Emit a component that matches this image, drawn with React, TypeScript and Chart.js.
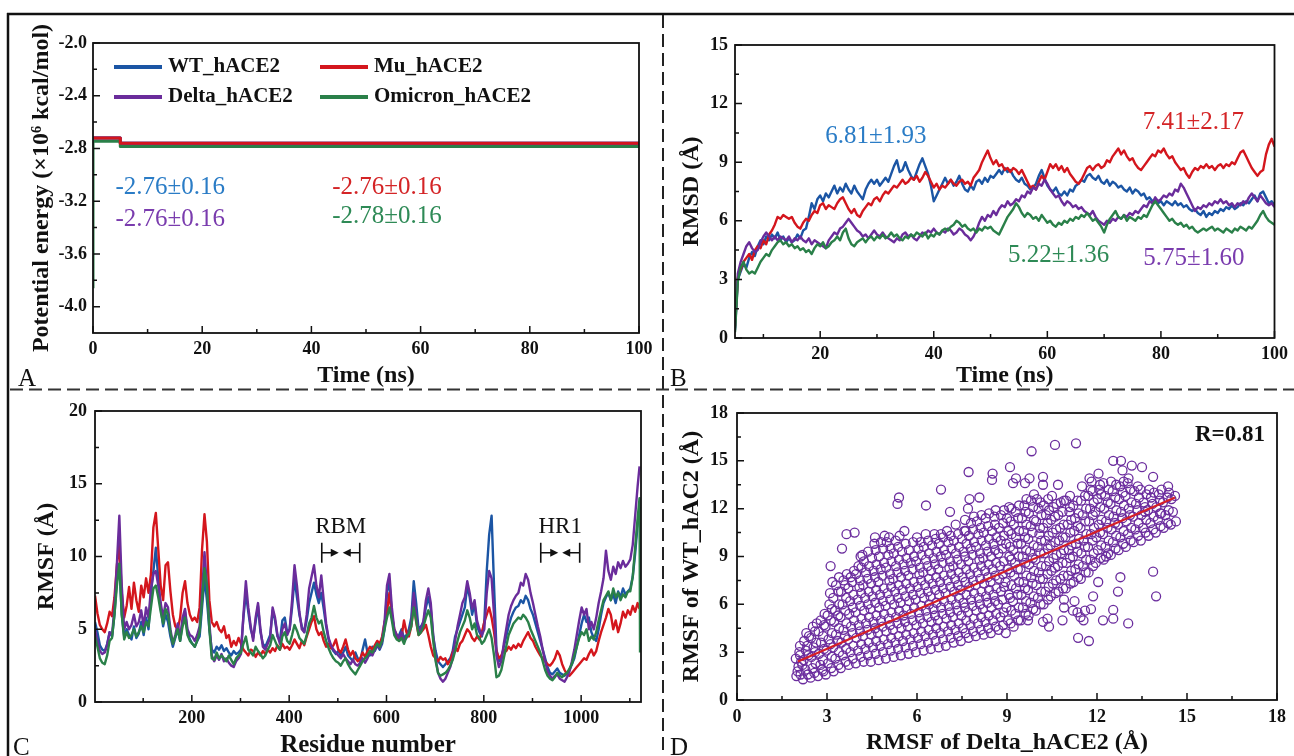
import React, { useEffect, useRef } from "react";
import { Chart, registerables } from "chart.js";

Chart.register(...registerables);

const SERIF = "'Liberation Serif', 'Times New Roman', Times, serif";
const INK = "#111111";
Chart.defaults.font.family = SERIF;

// ---------- shared series meta ----------
const SERIES_NAMES = ["WT_hACE2", "Mu_hACE2", "Delta_hACE2", "Omicron_hACE2"];
const LINE_COLORS = ["#1b55a4", "#d4161d", "#6a2c9b", "#2a8049"];
const TEXT_COLORS = ["#2a7cc6", "#d42426", "#7a3cae", "#2e8a56"];

// ---------- Panel A: potential energy ----------
const ENERGY_TIME = [0, 0, 5, 5, 100];
const ENERGY_WT = [-2.72, -2.72, -2.72, -2.76, -2.76];
const ENERGY_MU = [-2.72, -2.72, -2.72, -2.76, -2.76];
const ENERGY_DELTA = [-2.72, -2.72, -2.72, -2.76, -2.76];
const ENERGY_OMICRON = [-3.86, -2.745, -2.745, -2.785, -2.785];
const ENERGY_STATS = ["-2.76±0.16", "-2.76±0.16", "-2.76±0.16", "-2.78±0.16"];
const ENERGY_X_TICKS = [0, 20, 40, 60, 80, 100];
const ENERGY_X_MINOR = [10, 30, 50, 70, 90];
const ENERGY_Y_TICKS = [-2.0, -2.4, -2.8, -3.2, -3.6, -4.0];
const ENERGY_Y_MINOR = [-2.2, -2.6, -3.0, -3.4, -3.8];

// ---------- Panel B: RMSD (t = 5 … 100 ns, every 0.5 ns) ----------
const RMSD_TIME = Array.from({ length: 191 }, (_, i) => 5 + i * 0.5);
const RMSD_WT = [
  0.4, 3.0, 3.4, 3.8, 3.6, 4.1, 4.4, 4.2, 4.7, 5.0,
  4.8, 5.2, 5.0, 5.3, 5.1, 5.4, 5.0, 5.2, 4.9, 5.1,
  4.9, 5.0, 5.3, 5.1, 5.5, 5.6, 6.2, 6.9, 6.6, 7.1,
  7.3, 7.0, 7.4, 7.2, 7.5, 7.8, 7.4, 7.7, 7.5, 7.9,
  7.6, 7.4, 7.8, 7.5, 7.3, 7.1, 7.6, 7.9, 8.1, 7.9,
  8.1, 7.8, 8.0, 8.2, 8.0, 8.4, 8.8, 9.1, 8.5, 8.6,
  9.0, 8.6, 8.3, 8.1, 8.5, 8.9, 9.2, 8.8, 8.4, 7.8,
  7.0, 7.3, 7.6, 7.9, 8.2, 7.9, 8.1, 7.8, 8.0, 8.3,
  7.9, 7.6, 7.5, 7.8, 7.6, 8.0, 8.1, 7.9, 8.2, 8.0,
  8.3, 8.2, 8.4, 8.6, 8.4, 8.7, 8.5, 8.6, 8.3, 8.1,
  8.0, 8.2, 7.9, 7.8, 7.6, 7.7, 7.9, 8.3, 8.6, 8.2,
  7.8, 7.6, 7.5, 7.7, 7.4, 7.3, 7.5, 7.3, 7.6, 7.5,
  7.8, 7.9, 8.1, 8.0, 8.3, 8.4, 8.2, 8.1, 8.3, 8.0,
  7.9, 8.1, 7.8, 8.0, 7.9, 7.7, 7.8, 7.6, 7.5, 7.7,
  7.4, 7.6, 7.5, 7.3, 7.4, 7.1, 7.2, 7.0, 7.1, 6.9,
  7.0, 6.8, 7.0, 6.9, 6.8, 7.0, 6.8, 6.9, 6.7, 6.8,
  6.6, 6.5, 6.6, 6.4, 6.3, 6.5, 6.2, 6.4, 6.3, 6.5,
  6.4, 6.6, 6.5, 6.7, 6.6, 6.8, 6.6, 6.7, 6.9, 6.8,
  7.0, 6.9, 7.1, 7.3, 7.0, 7.4, 7.5, 7.2, 6.9, 7.0, 6.8,
];
const RMSD_MU = [
  0.6, 3.1, 3.5, 3.9, 4.1, 4.3, 4.0, 4.5, 4.7, 4.6,
  5.0, 4.8, 5.3, 5.5, 5.8, 6.2, 6.1, 6.3, 6.2, 6.1,
  6.2, 5.9, 5.7, 5.6, 5.9, 6.1, 6.0, 6.3, 6.5, 6.4,
  6.8, 6.9, 6.6, 6.8, 6.7, 6.6, 6.9, 7.1, 7.2, 6.9,
  6.6, 6.4, 6.6, 6.3, 6.2, 6.5, 6.7, 6.9, 6.8, 7.1,
  7.2, 7.0, 7.3, 7.5, 7.4, 7.6, 7.8, 7.7, 7.9, 8.1,
  7.9, 8.0, 8.2, 8.1, 8.3, 8.0, 8.2, 8.5, 8.3, 8.0,
  7.7, 7.9, 7.6, 7.8, 7.7, 7.9, 8.1, 7.9, 7.8, 8.0,
  8.1, 7.9, 8.0, 7.8, 8.2, 8.4, 8.6, 9.0, 9.3, 9.6,
  9.2, 8.9, 9.1, 8.8, 8.9, 8.6, 8.7, 8.5, 8.7, 8.6,
  8.4, 8.6, 8.3, 8.0, 7.7, 7.8, 7.6, 8.0, 8.3, 8.1,
  8.5, 8.9, 8.7, 8.9, 8.6, 8.8, 8.5, 8.7, 8.4, 8.2,
  8.0, 7.9, 8.1, 8.4, 8.7, 8.8, 8.6, 8.8, 8.9, 8.7,
  8.8, 9.1, 9.0, 9.3, 9.5, 9.7, 9.4, 9.6, 9.3, 9.1,
  9.2, 8.9, 8.7, 8.6, 8.8, 9.0, 9.2, 9.4, 9.3, 9.6,
  9.5, 9.7, 9.4, 9.2, 9.3, 9.0, 8.8, 8.6, 8.7, 8.4,
  8.2, 8.5, 8.7, 8.6, 8.8, 8.7, 8.9, 8.7, 8.8, 8.6,
  8.8, 8.9, 8.7, 8.9, 8.8, 9.0, 8.9, 9.2, 9.5, 9.6,
  9.3, 9.0, 8.7, 8.5, 8.3, 8.5, 8.6, 9.4, 9.9, 10.2, 9.8,
];
const RMSD_DELTA = [
  0.5, 3.3, 3.9, 4.3, 4.7, 4.9, 4.6, 4.4, 4.5, 4.9,
  5.2, 5.4, 5.2, 5.0, 5.2, 5.0, 5.2, 5.1, 5.0, 5.2,
  4.9, 5.1, 5.0, 5.2, 5.0, 4.9, 5.1, 4.8, 5.0, 4.9,
  4.8, 4.7, 4.6, 5.0, 5.2, 5.4, 5.3, 5.6, 5.7, 5.9,
  6.1, 5.9, 5.7, 5.5, 5.4, 5.2, 5.3, 5.1, 5.3, 5.5,
  5.3, 5.2, 5.4, 5.2, 5.1, 5.0, 4.9, 5.1, 5.0, 5.3,
  5.4, 5.2, 5.3, 5.1, 5.0, 5.2, 5.4, 5.3, 5.5, 5.4,
  5.6, 5.4, 5.3, 5.5, 5.4, 5.6, 5.5, 5.3, 5.4, 5.6,
  5.5, 5.3, 5.2, 5.0, 5.2, 5.5, 5.9, 6.2, 6.0, 6.3,
  6.2, 6.5, 6.3, 6.6, 6.8, 6.7, 7.0, 6.8, 6.9, 7.1,
  7.0, 7.3, 7.2, 7.5, 7.4, 7.7, 7.6, 7.9, 7.8, 8.1,
  7.9, 7.6, 7.4, 7.2, 7.3, 7.0, 6.8, 7.0, 6.9, 6.7,
  6.8, 6.6, 6.7, 6.5, 6.4, 6.3, 6.5, 6.2, 6.0, 5.9,
  5.8, 6.0, 5.9, 6.1, 6.0, 6.2, 6.1, 6.3, 6.2, 6.4,
  6.3, 6.5, 6.4, 6.6, 6.8, 6.7, 7.0, 6.9, 7.2, 7.0,
  7.1, 7.3, 7.2, 7.4, 7.3, 7.6, 7.5, 7.9, 7.7, 7.4,
  7.1, 6.8, 6.5, 6.7, 6.6, 6.8, 6.7, 6.9, 6.8, 7.0,
  6.9, 7.1, 6.9, 7.0, 6.8, 6.9, 6.7, 6.9, 6.8, 7.0,
  6.9, 7.2, 7.4, 7.2, 7.0, 7.3, 7.1, 6.9, 6.8, 6.9, 6.7,
];
const RMSD_OMICRON = [
  0.3, 2.9, 3.6, 3.9, 3.5, 3.3, 3.4, 3.3, 3.6, 3.9,
  4.1, 4.3, 4.2, 4.5, 4.7, 4.9, 5.0, 4.8, 4.9, 4.7,
  4.8, 4.6, 4.7, 4.5, 4.6, 4.4, 4.5, 4.3, 4.6, 4.8,
  4.7, 4.9, 4.6, 4.7, 4.9, 5.0, 5.2, 5.0, 5.4, 5.6,
  5.1, 4.8, 4.7, 4.9, 5.0, 5.1, 4.9, 5.1, 5.2, 5.0,
  5.2, 5.1, 5.3, 5.1, 5.2, 5.4, 5.2, 5.3, 5.1, 5.0,
  5.2, 5.1, 5.3, 5.2, 5.4, 5.3, 5.2, 5.4, 5.1, 5.3,
  5.2, 5.4, 5.3, 5.5, 5.6, 5.5, 5.7, 5.8, 6.0, 5.9,
  5.7, 5.8, 5.6, 5.5, 5.6, 5.4, 5.6, 5.5, 5.7, 5.6,
  5.7, 5.5, 5.4, 5.3, 5.6, 5.9, 6.2, 6.4, 6.6, 6.9,
  6.7, 6.4, 6.2, 6.4, 6.3, 6.1, 6.2, 6.0, 6.3, 6.1,
  5.9, 6.0, 5.8, 5.7, 5.9, 5.8, 6.0, 5.9, 6.1, 6.0,
  6.2, 6.1, 6.3, 6.2, 6.4, 6.2, 6.0, 6.1, 5.9, 5.7,
  5.4, 5.8, 6.1, 6.3, 6.5, 6.2, 6.1, 6.3, 6.0, 6.2,
  6.1, 6.0, 6.2, 6.1, 6.3, 6.2, 6.5, 6.8, 7.0, 6.8,
  6.6, 6.4, 6.2, 6.0, 6.1, 5.9, 5.8, 5.9, 5.7, 5.8,
  5.6, 5.7, 5.5, 5.4, 5.5, 5.6, 5.5, 5.6, 5.7, 5.5,
  5.6, 5.5, 5.4, 5.6, 5.5, 5.4, 5.6, 5.5, 5.7, 5.6,
  5.5, 5.7, 5.6, 5.8, 6.0, 6.3, 6.5, 6.2, 6.0, 5.9, 5.8,
];
const RMSD_STATS = ["6.81±1.93", "7.41±2.17", "5.75±1.60", "5.22±1.36"];
const RMSD_X_TICKS = [20, 40, 60, 80, 100];
const RMSD_X_MINOR = [10, 30, 50, 70, 90];
const RMSD_Y_TICKS = [0, 3, 6, 9, 12, 15];
const RMSD_Y_MINOR = [1.5, 4.5, 7.5, 10.5, 13.5];

// ---------- Panel C: RMSF per residue ----------
const RESIDUES = [...Array.from({ length: 224 }, (_, i) => 1 + i * 5), 1120, 1121];
const RMSF_MU = [
  7.3, 6.1, 5.3, 5.0, 4.8, 5.4, 6.2, 5.9, 7.2, 9.4,
  10.9, 7.5, 5.8, 6.6, 7.9, 6.4, 8.2, 7.0, 6.2, 8.0,
  7.2, 8.5, 7.5, 8.8, 12.0, 13.0, 10.5, 8.0, 7.0, 9.4,
  9.6, 7.6, 6.0, 5.2, 5.0, 5.8, 7.5, 8.3, 6.8, 6.0,
  5.6, 5.8, 5.5, 6.5, 10.5, 12.9, 11.0, 7.0, 5.5, 5.2,
  5.5, 5.0, 4.8, 5.2, 4.4, 4.6, 3.8, 4.2, 3.9, 4.4,
  4.0, 3.6, 3.4, 3.2, 3.6, 3.5, 3.1, 3.4, 3.2, 3.5,
  3.3, 3.6, 3.4, 3.7, 3.5, 3.9, 3.6, 4.0, 3.7, 3.8,
  3.6, 3.9, 4.3, 4.0, 3.7, 4.2, 3.9, 4.5, 5.0, 5.5,
  5.9, 5.0, 4.6, 4.8, 4.2, 3.8, 4.0, 3.7, 3.9, 4.3,
  3.6, 3.4, 3.8, 4.3, 3.6, 3.2, 3.5, 3.0, 2.8, 3.0,
  3.4, 3.1, 3.5, 3.8, 3.6, 3.9, 4.2, 4.0, 4.5, 5.5,
  6.2, 7.5, 6.0, 5.0, 4.6, 4.2, 4.5, 5.6, 4.8, 4.5,
  5.2, 6.8, 5.5, 4.6, 4.8, 5.0, 5.3, 4.6, 3.8, 3.2,
  3.0, 2.8, 3.1, 2.9, 3.0, 2.6, 2.9, 3.4, 3.8, 3.5,
  4.0, 4.2, 4.6, 5.0, 4.8, 4.4, 4.2, 4.5, 4.3, 4.8,
  5.5, 6.0, 6.5, 5.8, 4.8, 3.5, 3.0, 3.2, 3.6, 3.5,
  3.8, 3.6, 3.9, 3.7, 4.0, 3.8, 4.2, 4.5, 4.8, 4.4,
  4.2, 3.8, 3.5, 3.2, 3.0, 2.8, 2.6, 2.5, 2.7, 3.0,
  3.5, 3.2, 2.6, 2.2, 1.9, 1.8, 2.0, 2.2, 2.4, 2.6,
  2.8, 3.0, 2.9, 3.3, 3.6, 3.2, 3.5, 4.2, 4.8, 5.3,
  5.8, 6.4, 6.0, 5.0, 5.6, 4.8, 5.4, 6.2, 5.8, 6.3,
  6.0, 6.6, 6.2, 6.8, 6.4,
];
const RMSF_WT = [
  5.5, 4.8, 3.9, 3.6, 3.5, 4.0, 4.8, 4.5, 6.0, 8.5,
  9.5, 6.0, 4.5, 5.0, 4.6, 4.3, 5.2, 4.4, 4.7, 5.5,
  4.6, 5.8, 5.0, 7.5, 9.0, 10.6, 8.5, 6.5, 5.2, 6.0,
  5.5, 4.5, 3.8, 4.4, 5.0, 4.2, 5.5, 6.2, 4.8, 4.3,
  4.0, 3.8, 4.2, 4.5, 6.5, 8.5, 7.0, 5.0, 3.6, 3.4,
  3.8, 3.6, 3.9, 3.5, 3.7, 3.4, 3.2, 3.5, 3.3, 3.4,
  3.6, 5.8, 7.5, 6.2, 5.0, 4.4, 5.5, 6.6, 4.8, 4.0,
  3.8, 4.2, 4.6, 6.3, 5.6, 4.5, 4.2, 5.6, 5.8, 4.8,
  5.0, 6.5, 8.5, 7.2, 6.0, 5.2, 4.8, 5.6, 6.8, 7.5,
  8.2, 7.4, 6.8, 7.5, 6.4, 5.2, 4.3, 3.8, 3.5, 3.3,
  3.5, 3.2, 3.4, 3.8, 3.2, 3.0, 2.8, 3.4, 3.0, 2.8,
  3.6, 4.3, 3.4, 3.2, 3.8, 3.5, 3.9, 3.6, 4.0, 5.0,
  7.5, 8.3, 6.0, 4.8, 4.4, 4.6, 5.0, 4.4, 4.6, 5.0,
  5.8, 8.3, 6.8, 5.0, 5.2, 5.5, 6.5, 7.2, 6.4, 4.5,
  3.5, 2.8, 2.6, 2.4, 2.6, 2.8, 3.0, 3.5, 4.5, 5.0,
  5.5, 6.0, 6.5, 8.0, 7.2, 6.0, 6.8, 5.2, 4.8, 4.5,
  5.5, 9.0, 11.5, 12.8, 8.0, 3.6, 2.8, 3.0, 3.8, 4.5,
  5.2, 5.8, 6.2, 6.5, 6.6, 7.0, 6.8, 7.3, 7.0, 6.4,
  6.0, 5.4, 4.8, 4.2, 3.6, 3.0, 2.4, 2.0, 1.9, 2.1,
  2.3, 2.0, 1.9, 1.8, 2.0, 2.2, 2.6, 3.0, 3.8, 4.6,
  5.4, 6.0, 5.5, 5.8, 4.8, 4.4, 4.2, 5.0, 6.0, 6.8,
  7.2, 7.5, 7.0, 7.4, 6.8, 7.6, 7.2, 7.8, 7.4, 7.6,
  7.8, 8.6, 10.2, 12.2, 13.4,
];
const RMSF_DELTA = [
  5.0, 4.2, 3.5, 3.3, 3.4, 3.9, 4.8, 4.6, 6.5, 9.5,
  12.8, 8.0, 5.0, 5.5, 5.0, 5.3, 6.0, 5.2, 5.5, 6.3,
  5.2, 6.5, 5.8, 7.8, 8.8, 9.0, 8.0, 6.8, 5.8, 6.8,
  6.5, 5.0, 4.0, 4.6, 5.4, 4.4, 5.8, 6.4, 5.0, 4.6,
  4.5, 4.2, 4.6, 5.2, 7.5, 10.3, 8.0, 5.5, 3.2, 2.8,
  3.2, 2.9, 3.3, 2.8, 3.0, 2.7, 2.5, 2.4, 2.8, 3.0,
  3.3, 6.0, 8.3, 6.5, 5.2, 4.2, 5.8, 6.8, 5.0, 3.8,
  3.6, 4.0, 4.4, 6.5, 5.8, 4.6, 4.0, 5.0, 5.4, 4.6,
  5.0, 7.0, 9.4, 8.0, 6.2, 5.0, 4.8, 6.0, 7.8, 8.6,
  9.4, 8.0, 7.2, 8.7, 7.0, 5.4, 4.4, 3.9, 3.6, 3.4,
  3.2, 3.0, 3.3, 3.0, 2.8, 2.6, 2.9, 2.6, 2.5, 2.7,
  3.0, 2.7, 3.0, 3.4, 3.2, 3.6, 4.0, 3.7, 4.2, 5.5,
  8.0, 8.8, 6.5, 5.0, 4.6, 4.4, 4.8, 4.2, 4.4, 4.8,
  5.4, 7.5, 6.0, 4.8, 5.0, 5.6, 7.0, 7.8, 6.8, 4.6,
  3.0, 2.0, 1.6, 1.4, 1.6, 2.0, 2.4, 3.0, 4.2, 5.2,
  6.0, 6.8, 7.2, 8.3, 7.5, 6.4, 7.0, 5.6, 5.0, 4.6,
  5.0, 7.5, 9.0, 8.5, 6.0, 3.2, 2.4, 2.8, 4.0, 5.0,
  6.0, 6.6, 7.0, 7.3, 7.5, 8.2, 8.0, 8.8, 8.4, 7.5,
  6.8, 6.0, 5.2, 4.5, 3.6, 2.8, 2.1, 1.8, 1.6, 1.8,
  1.9, 1.6, 1.5, 1.4, 1.7, 2.1, 2.8, 3.6, 4.6, 5.6,
  6.5, 6.0, 6.4, 5.0, 5.5, 5.0, 5.8, 6.8, 7.6, 8.5,
  10.4, 9.0, 8.4, 9.3, 8.8, 9.6, 9.2, 9.7, 9.3, 9.5,
  9.8, 10.8, 12.8, 14.8, 16.2,
];
const RMSF_OMICRON = [
  4.5, 3.8, 3.0, 2.7, 2.6, 3.2, 4.2, 4.4, 6.0, 8.0,
  9.5, 6.0, 4.3, 4.8, 4.4, 4.6, 5.0, 4.5, 4.8, 5.2,
  4.8, 5.5, 5.2, 6.5, 7.8, 8.0, 7.2, 6.2, 5.4, 6.4,
  6.0, 4.8, 4.0, 4.5, 5.0, 4.2, 5.2, 5.8, 4.6, 4.2,
  4.0, 3.8, 4.2, 4.8, 7.0, 9.2, 8.0, 5.0, 3.0, 2.9,
  3.4, 3.0, 3.2, 3.0, 2.8, 3.2, 2.9, 2.6, 3.0, 3.2,
  3.4, 4.0, 4.5, 3.6, 3.4, 3.2, 3.8, 3.5, 3.3, 3.0,
  3.2, 3.6, 3.9, 4.6, 4.2, 3.8, 3.6, 4.5, 4.8, 4.2,
  4.0, 4.6, 5.3, 4.9, 4.4, 4.2, 4.0, 4.6, 5.4, 5.8,
  6.6, 5.8, 5.4, 5.6, 4.8, 4.2, 3.7, 3.3, 3.0, 2.8,
  2.7, 2.5, 2.8, 3.0, 2.6, 2.3, 2.1, 1.9, 2.2, 2.5,
  2.8, 3.0, 3.2, 3.5, 3.4, 3.7, 4.0, 3.8, 4.2, 5.0,
  5.8, 6.5, 5.6, 4.6, 4.3, 4.2, 4.4, 4.0, 4.5, 4.7,
  5.2, 6.5, 5.6, 4.6, 4.8, 5.2, 5.8, 6.3, 5.8, 4.2,
  2.8, 2.0, 1.8, 1.9, 2.0, 2.2, 2.5, 2.9, 3.5, 4.2,
  4.8, 5.2, 5.6, 6.3, 5.8, 5.0, 5.4, 4.6, 4.4, 4.0,
  4.2, 4.6, 5.0, 4.4, 3.2, 1.7, 1.8, 2.2, 3.0, 3.8,
  4.6, 5.0, 5.4, 5.6, 5.8, 5.7, 6.0, 5.8, 5.5, 5.0,
  4.6, 4.2, 3.8, 3.4, 2.8, 2.2, 1.8, 1.6, 1.5, 1.7,
  2.0, 1.8, 1.7, 1.9, 2.0, 2.3, 2.6, 3.2, 3.8, 4.4,
  4.8, 4.6, 5.0, 4.2, 4.5, 4.3, 4.8, 5.6, 6.3, 7.0,
  7.3, 7.6, 7.0, 7.8, 7.2, 7.5, 7.0, 7.4, 7.2, 7.6,
  7.6, 8.6, 10.6, 12.6, 14.0, 3.4,
];
const RMSF_X_TICKS = [200, 400, 600, 800, 1000];
const RMSF_X_MINOR = [100, 300, 500, 700, 900, 1100];
const RMSF_Y_TICKS = [0, 5, 10, 15, 20];
const RMSF_Y_MINOR = [2.5, 7.5, 12.5, 17.5];
const REGION_NAMES = ["RBM", "HR1"];
const REGION_START = [467, 917];
const REGION_END = [545, 997];

// ---------- Panel D: RMSF correlation (Delta x, WT y) ----------
const SCATTER_CORE: [number, number][] = [
  [1.98, 1.5], [2.05, 2.1], [1.96, 2.6], [2.08, 3.0], [2.02, 1.8], [2.1, 3.4],
  [2.2, 1.3], [2.28, 1.9], [2.22, 2.5], [2.3, 3.1], [2.24, 3.7], [2.31, 4.2], [2.18, 2.2],
  [2.45, 1.4], [2.52, 2.0], [2.48, 2.7], [2.55, 3.3], [2.47, 3.9], [2.53, 4.6], [2.58, 1.7],
  [2.7, 1.5], [2.78, 2.2], [2.73, 2.9], [2.8, 3.6], [2.72, 4.3], [2.79, 5.0], [2.84, 1.9],
  [2.96, 1.6], [3.03, 2.3], [2.98, 3.1], [3.05, 3.8], [2.95, 4.6], [3.02, 5.3], [3.08, 6.0], [3.1, 6.7], [3.12, 8.4],
  [3.22, 1.8], [3.28, 2.6], [3.2, 3.3], [3.3, 4.1], [3.24, 4.9], [3.27, 5.6], [3.21, 6.4], [3.3, 7.2],
  [3.46, 2.0], [3.53, 2.8], [3.48, 3.6], [3.55, 4.4], [3.45, 5.2], [3.52, 6.0], [3.47, 6.8], [3.55, 7.5], [3.5, 9.5],
  [3.72, 2.2], [3.78, 3.0], [3.7, 3.8], [3.8, 4.6], [3.74, 5.4], [3.77, 6.2], [3.71, 7.0], [3.79, 7.7], [3.65, 10.4],
  [3.96, 2.3], [4.03, 3.1], [3.98, 3.9], [4.06, 4.7], [3.95, 5.5], [4.02, 6.3], [4.08, 7.1], [3.97, 7.9], [4.05, 8.4], [3.92, 10.5],
  [4.22, 2.4], [4.28, 3.2], [4.2, 4.0], [4.3, 4.8], [4.24, 5.6], [4.27, 6.4], [4.21, 7.2], [4.3, 8.0], [4.23, 8.7], [4.18, 9.1],
  [4.46, 2.4], [4.53, 3.3], [4.48, 4.1], [4.55, 4.9], [4.45, 5.7], [4.52, 6.5], [4.47, 7.3], [4.55, 8.1], [4.5, 8.9], [4.58, 9.8],
  [4.72, 2.5], [4.78, 3.4], [4.7, 4.2], [4.8, 5.0], [4.74, 5.8], [4.77, 6.6], [4.71, 7.4], [4.79, 8.2], [4.73, 9.0], [4.8, 9.9],
  [4.96, 2.6], [5.03, 3.5], [4.98, 4.3], [5.06, 5.1], [4.95, 5.9], [5.02, 6.7], [5.08, 7.5], [4.97, 8.3], [5.05, 9.1], [4.99, 9.9], [5.07, 10.2],
  [5.22, 2.7], [5.28, 3.6], [5.2, 4.4], [5.3, 5.2], [5.24, 6.0], [5.27, 6.8], [5.21, 7.6], [5.3, 8.4], [5.23, 9.2], [5.29, 10.0], [5.35, 12.3], [5.4, 12.7],
  [5.46, 2.8], [5.53, 3.7], [5.48, 4.5], [5.55, 5.3], [5.45, 6.1], [5.52, 6.9], [5.47, 7.7], [5.55, 8.5], [5.5, 9.3], [5.58, 10.6],
  [5.72, 2.9], [5.78, 3.8], [5.7, 4.6], [5.8, 5.4], [5.74, 6.2], [5.77, 7.0], [5.71, 7.8], [5.79, 8.6], [5.73, 9.4],
  [5.96, 3.0], [6.03, 3.9], [5.98, 4.7], [6.06, 5.5], [5.95, 6.3], [6.02, 7.1], [6.08, 7.9], [5.97, 8.7], [6.05, 9.5], [6.0, 10.2],
  [6.22, 3.1], [6.28, 4.0], [6.2, 4.8], [6.3, 5.6], [6.24, 6.4], [6.27, 7.2], [6.21, 8.0], [6.3, 8.8], [6.23, 9.6], [6.29, 10.4], [6.3, 12.2],
  [6.46, 3.2], [6.53, 4.1], [6.48, 4.9], [6.55, 5.7], [6.45, 6.5], [6.52, 7.3], [6.47, 8.1], [6.55, 8.9], [6.5, 9.7], [6.58, 10.4],
  [6.72, 3.3], [6.78, 4.2], [6.7, 5.0], [6.8, 5.8], [6.74, 6.6], [6.77, 7.4], [6.71, 8.2], [6.79, 9.0], [6.73, 9.8], [6.8, 10.4], [6.8, 13.2],
  [6.96, 3.4], [7.03, 4.3], [6.98, 5.1], [7.06, 5.9], [6.95, 6.7], [7.02, 7.5], [7.08, 8.3], [6.97, 9.1], [7.05, 9.9], [7.0, 10.6], [7.1, 11.8],
  [7.22, 3.6], [7.28, 4.4], [7.2, 5.2], [7.3, 6.0], [7.24, 6.8], [7.27, 7.6], [7.21, 8.4], [7.3, 9.2], [7.23, 10.0], [7.29, 11.0],
  [7.46, 3.7], [7.53, 4.5], [7.48, 5.3], [7.55, 6.1], [7.45, 6.9], [7.52, 7.7], [7.47, 8.5], [7.55, 9.3], [7.5, 10.1], [7.58, 10.6],
  [7.72, 3.9], [7.78, 4.7], [7.7, 5.5], [7.8, 6.3], [7.74, 7.1], [7.77, 7.9], [7.71, 8.7], [7.79, 9.5], [7.73, 10.3], [7.8, 11.1], [7.7, 12.0], [7.75, 12.6], [7.72, 14.3],
  [7.96, 4.0], [8.03, 4.8], [7.98, 5.6], [8.06, 6.4], [7.95, 7.2], [8.02, 8.0], [8.08, 8.8], [7.97, 9.6], [8.05, 10.4], [8.0, 11.2], [8.08, 12.7],
  [8.22, 4.1], [8.28, 4.9], [8.2, 5.7], [8.3, 6.5], [8.24, 7.3], [8.27, 8.1], [8.21, 8.9], [8.3, 9.7], [8.23, 10.5], [8.29, 11.4],
  [8.46, 4.2], [8.53, 5.0], [8.48, 5.8], [8.55, 6.6], [8.45, 7.4], [8.52, 8.2], [8.47, 9.0], [8.55, 9.8], [8.5, 10.6], [8.58, 11.5], [8.5, 13.8], [8.52, 14.2], [8.6, 11.0],
  [8.72, 4.4], [8.78, 5.2], [8.7, 6.0], [8.8, 6.8], [8.74, 7.6], [8.77, 8.4], [8.71, 9.2], [8.79, 10.0], [8.73, 10.8], [8.8, 11.6],
  [8.96, 4.2], [9.03, 5.0], [8.98, 5.8], [9.06, 6.6], [8.95, 7.4], [9.02, 8.2], [9.08, 9.0], [8.97, 9.8], [9.05, 10.6], [9.0, 11.4], [9.07, 12.1], [9.1, 14.6], [9.2, 13.6],
  [9.22, 4.6], [9.28, 5.4], [9.2, 6.2], [9.3, 7.0], [9.24, 7.8], [9.27, 8.6], [9.21, 9.4], [9.3, 10.2], [9.23, 11.0], [9.29, 11.8], [9.3, 13.9],
  [9.46, 5.0], [9.53, 5.8], [9.48, 6.6], [9.55, 7.4], [9.45, 8.2], [9.52, 9.0], [9.47, 9.8], [9.55, 10.6], [9.5, 11.4], [9.58, 12.2], [9.6, 13.6],
  [9.72, 5.3], [9.78, 6.1], [9.7, 6.9], [9.8, 7.7], [9.74, 8.5], [9.77, 9.3], [9.71, 10.1], [9.79, 10.9], [9.73, 11.7], [9.8, 12.5], [9.75, 13.9], [9.82, 15.6], [9.7, 5.0],
  [9.96, 5.6], [10.03, 6.4], [9.98, 7.2], [10.06, 8.0], [9.95, 8.8], [10.02, 9.6], [10.08, 10.4], [9.97, 11.2], [10.05, 12.0], [10.0, 12.6], [10.2, 14.0], [10.2, 13.5],
  [10.22, 6.0], [10.28, 6.8], [10.2, 7.6], [10.3, 8.4], [10.24, 9.2], [10.27, 10.0], [10.21, 10.8], [10.3, 11.6], [10.23, 12.2], [10.2, 4.9], [10.4, 4.6], [10.35, 5.1],
  [10.46, 6.5], [10.53, 7.3], [10.48, 8.1], [10.55, 8.9], [10.45, 9.7], [10.52, 10.5], [10.47, 11.3], [10.55, 12.1], [10.5, 12.8], [10.6, 16.0], [10.7, 13.5],
  [10.72, 6.8], [10.78, 7.6], [10.7, 8.4], [10.8, 9.2], [10.74, 10.0], [10.77, 10.8], [10.71, 11.6], [10.79, 12.4], [10.85, 5.0], [10.9, 6.3], [10.9, 5.8],
  [10.96, 7.0], [11.03, 7.8], [10.98, 8.6], [11.06, 9.4], [10.95, 10.2], [11.02, 11.0], [11.08, 11.8], [10.97, 12.5], [11.1, 12.8], [11.2, 5.6], [11.25, 6.2],
  [11.22, 7.4], [11.28, 8.2], [11.2, 9.0], [11.3, 9.8], [11.24, 10.6], [11.27, 11.4], [11.21, 12.2], [11.3, 16.1], [11.37, 3.9], [11.35, 5.5], [11.45, 5.2],
  [11.46, 7.6], [11.53, 8.4], [11.48, 9.2], [11.55, 10.0], [11.45, 10.8], [11.52, 11.6], [11.47, 12.5], [11.5, 13.4], [11.55, 5.0], [11.6, 5.6],
  [11.72, 8.0], [11.78, 8.8], [11.7, 9.6], [11.8, 10.4], [11.74, 11.2], [11.77, 12.0], [11.71, 12.8], [11.79, 13.2], [11.73, 3.7], [11.87, 6.5], [11.8, 5.7], [11.75, 13.9], [11.82, 13.7],
  [11.96, 8.6], [12.03, 9.4], [11.98, 10.2], [12.06, 11.0], [11.95, 11.8], [12.02, 12.6], [12.08, 13.2], [12.04, 7.4], [12.2, 5.0], [12.05, 14.2],
  [12.22, 8.8], [12.28, 9.6], [12.2, 10.4], [12.3, 11.2], [12.24, 12.0], [12.27, 12.8], [12.21, 13.6], [12.3, 9.0],
  [12.46, 9.1], [12.53, 9.9], [12.48, 10.7], [12.55, 11.5], [12.45, 12.3], [12.52, 13.1], [12.47, 13.7], [12.54, 15.0], [12.54, 5.65], [12.54, 5.1], [12.7, 6.8],
  [12.72, 9.4], [12.78, 10.2], [12.7, 11.0], [12.8, 11.8], [12.74, 12.6], [12.77, 13.4], [12.8, 15.0], [12.78, 7.7], [12.85, 14.4],
  [12.96, 9.6], [13.03, 10.4], [12.98, 11.2], [13.06, 12.0], [12.95, 12.8], [13.02, 13.6], [13.04, 4.8], [13.05, 13.9],
  [13.22, 9.9], [13.28, 10.7], [13.2, 11.5], [13.3, 12.3], [13.24, 13.1], [13.16, 14.7],
  [13.46, 10.0], [13.53, 10.8], [13.48, 11.6], [13.55, 12.4], [13.45, 13.2], [13.5, 14.6], [13.6, 11.8],
  [13.72, 10.3], [13.78, 11.1], [13.7, 11.9], [13.8, 12.7], [13.74, 13.2], [13.87, 14.0], [13.87, 8.05],
  [13.96, 10.5], [14.03, 11.3], [13.98, 12.1], [14.06, 12.9], [13.97, 6.5], [14.1, 11.7],
  [14.22, 10.8], [14.28, 11.6], [14.2, 12.4], [14.37, 13.4],
  [14.46, 11.0], [14.53, 11.8], [14.48, 12.6], [14.4, 13.0], [14.63, 11.2], [14.6, 12.8],
];
const SCATTER_FILL: [number, number][] = [
  [2.12, 1.6], [2.14, 2.4], [2.1, 2.8],
  [2.36, 1.6], [2.38, 2.8], [2.34, 3.4], [2.4, 4.0],
  [2.62, 2.3], [2.6, 3.0], [2.64, 3.6], [2.6, 4.3], [2.66, 4.8],
  [2.88, 1.8], [2.86, 2.5], [2.9, 3.2], [2.87, 4.0], [2.9, 4.7], [2.92, 5.4],
  [3.14, 2.0], [3.16, 2.7], [3.12, 3.5], [3.17, 4.2], [3.13, 5.0], [3.16, 5.7], [3.18, 7.4],
  [3.38, 2.2], [3.4, 3.0], [3.36, 3.7], [3.4, 4.5], [3.37, 5.3], [3.41, 6.0], [3.38, 6.8], [3.4, 7.7],
  [3.62, 2.4], [3.64, 3.2], [3.6, 4.0], [3.65, 4.8], [3.61, 5.6], [3.64, 6.4], [3.6, 7.2], [3.66, 7.9],
  [3.86, 2.6], [3.88, 3.4], [3.85, 4.2], [3.9, 5.0], [3.86, 5.8], [3.88, 6.6], [3.84, 7.4], [3.9, 8.1],
  [4.12, 2.7], [4.14, 3.5], [4.1, 4.3], [4.15, 5.1], [4.11, 5.9], [4.14, 6.7], [4.1, 7.5], [4.15, 8.3], [4.12, 9.0],
  [4.37, 2.8], [4.39, 3.6], [4.35, 4.4], [4.4, 5.2], [4.36, 6.0], [4.39, 6.8], [4.35, 7.6], [4.4, 8.4], [4.37, 9.3],
  [4.62, 2.9], [4.64, 3.7], [4.6, 4.5], [4.65, 5.3], [4.61, 6.1], [4.64, 6.9], [4.6, 7.7], [4.65, 8.5], [4.62, 9.4], [4.6, 10.2],
  [4.87, 3.0], [4.89, 3.8], [4.85, 4.6], [4.9, 5.4], [4.86, 6.2], [4.89, 7.0], [4.85, 7.8], [4.9, 8.6], [4.87, 9.5], [4.92, 10.3],
  [5.12, 3.1], [5.14, 3.9], [5.1, 4.7], [5.15, 5.5], [5.11, 6.3], [5.14, 7.1], [5.1, 7.9], [5.15, 8.7], [5.12, 9.5],
  [5.37, 3.2], [5.39, 4.0], [5.35, 4.8], [5.4, 5.6], [5.36, 6.4], [5.39, 7.2], [5.35, 8.0], [5.4, 8.8], [5.37, 9.6], [5.42, 10.3],
  [5.62, 3.3], [5.64, 4.1], [5.6, 4.9], [5.65, 5.7], [5.61, 6.5], [5.64, 7.3], [5.6, 8.1], [5.65, 8.9], [5.62, 9.8],
  [5.87, 3.4], [5.89, 4.2], [5.85, 5.0], [5.9, 5.8], [5.86, 6.6], [5.89, 7.4], [5.85, 8.2], [5.9, 9.0], [5.87, 9.9],
  [6.12, 3.5], [6.14, 4.3], [6.1, 5.1], [6.15, 5.9], [6.11, 6.7], [6.14, 7.5], [6.1, 8.3], [6.15, 9.1], [6.12, 9.9],
  [6.37, 3.6], [6.39, 4.4], [6.35, 5.2], [6.4, 6.0], [6.36, 6.8], [6.39, 7.6], [6.35, 8.4], [6.4, 9.2], [6.37, 10.0],
  [6.62, 3.7], [6.64, 4.5], [6.6, 5.3], [6.65, 6.1], [6.61, 6.9], [6.64, 7.7], [6.6, 8.5], [6.65, 9.3], [6.62, 10.1],
  [6.87, 3.8], [6.89, 4.6], [6.85, 5.4], [6.9, 6.2], [6.86, 7.0], [6.89, 7.8], [6.85, 8.6], [6.9, 9.4], [6.87, 10.2],
  [7.12, 3.9], [7.14, 4.7], [7.1, 5.5], [7.15, 6.3], [7.11, 7.1], [7.14, 7.9], [7.1, 8.7], [7.15, 9.5], [7.12, 10.3],
  [7.37, 4.0], [7.39, 4.8], [7.35, 5.6], [7.4, 6.4], [7.36, 7.2], [7.39, 8.0], [7.35, 8.8], [7.4, 9.6], [7.37, 10.4],
  [7.62, 4.2], [7.64, 5.0], [7.6, 5.8], [7.65, 6.6], [7.61, 7.4], [7.64, 8.2], [7.6, 9.0], [7.65, 9.8], [7.62, 10.6], [7.6, 11.3],
  [7.87, 4.3], [7.89, 5.1], [7.85, 5.9], [7.9, 6.7], [7.86, 7.5], [7.89, 8.3], [7.85, 9.1], [7.9, 9.9], [7.87, 10.7], [7.9, 11.5],
  [8.12, 4.4], [8.14, 5.2], [8.1, 6.0], [8.15, 6.8], [8.11, 7.6], [8.14, 8.4], [8.1, 9.2], [8.15, 10.0], [8.12, 10.8], [8.15, 11.6],
  [8.37, 4.5], [8.39, 5.3], [8.35, 6.1], [8.4, 6.9], [8.36, 7.7], [8.39, 8.5], [8.35, 9.3], [8.4, 10.1], [8.37, 10.9], [8.4, 11.7],
  [8.62, 4.6], [8.64, 5.4], [8.6, 6.2], [8.65, 7.0], [8.61, 7.8], [8.64, 8.6], [8.6, 9.4], [8.65, 10.2], [8.62, 11.9],
  [8.87, 4.7], [8.89, 5.5], [8.85, 6.3], [8.9, 7.1], [8.86, 7.9], [8.89, 8.7], [8.85, 9.5], [8.9, 10.3], [8.87, 11.1], [8.9, 11.9],
  [9.12, 4.8], [9.14, 5.6], [9.1, 6.4], [9.15, 7.2], [9.11, 8.0], [9.14, 8.8], [9.1, 9.6], [9.15, 10.4], [9.12, 11.2], [9.15, 12.0],
  [9.37, 5.0], [9.39, 5.8], [9.35, 6.6], [9.4, 7.4], [9.36, 8.2], [9.39, 9.0], [9.35, 9.8], [9.4, 10.6], [9.37, 11.4], [9.4, 12.2],
  [9.62, 5.4], [9.64, 6.2], [9.6, 7.0], [9.65, 7.8], [9.61, 8.6], [9.64, 9.4], [9.6, 10.2], [9.65, 11.0], [9.62, 11.8], [9.65, 12.6],
  [9.87, 5.7], [9.89, 6.5], [9.85, 7.3], [9.9, 8.1], [9.86, 8.9], [9.89, 9.7], [9.85, 10.5], [9.9, 11.3], [9.87, 12.1], [9.9, 12.9],
  [10.12, 6.0], [10.14, 6.8], [10.1, 7.6], [10.15, 8.4], [10.11, 9.2], [10.14, 10.0], [10.1, 10.8], [10.15, 11.6], [10.12, 12.4],
  [10.37, 6.3], [10.39, 7.1], [10.35, 7.9], [10.4, 8.7], [10.36, 9.5], [10.39, 10.3], [10.35, 11.1], [10.4, 11.9], [10.37, 12.6],
  [10.62, 6.7], [10.64, 7.5], [10.6, 8.3], [10.65, 9.1], [10.61, 9.9], [10.64, 10.7], [10.6, 11.5], [10.65, 12.3],
  [10.87, 7.0], [10.89, 7.8], [10.85, 8.6], [10.9, 9.4], [10.86, 10.2], [10.89, 11.0], [10.85, 11.8], [10.9, 12.5],
  [11.12, 7.3], [11.14, 8.1], [11.1, 8.9], [11.15, 9.7], [11.11, 10.5], [11.14, 11.3], [11.1, 12.1],
  [11.37, 7.7], [11.39, 8.5], [11.35, 9.3], [11.4, 10.1], [11.36, 10.9], [11.39, 11.7], [11.35, 12.5],
  [11.62, 8.0], [11.64, 8.8], [11.6, 9.6], [11.65, 10.4], [11.61, 11.2], [11.64, 12.0], [11.6, 12.8],
  [11.87, 8.4], [11.89, 9.2], [11.85, 10.0], [11.9, 10.8], [11.86, 11.6], [11.89, 12.4], [11.85, 13.1],
  [12.12, 8.9], [12.14, 9.7], [12.1, 10.5], [12.15, 11.3], [12.11, 12.1], [12.14, 12.9], [12.1, 13.5],
  [12.37, 9.2], [12.39, 10.0], [12.35, 10.8], [12.4, 11.6], [12.36, 12.4], [12.39, 13.2],
  [12.62, 9.5], [12.64, 10.3], [12.6, 11.1], [12.65, 11.9], [12.61, 12.7], [12.64, 13.5],
  [12.87, 9.8], [12.89, 10.6], [12.85, 11.4], [12.9, 12.2], [12.86, 13.0], [12.89, 13.7],
  [13.12, 10.0], [13.14, 10.8], [13.1, 11.6], [13.15, 12.4], [13.11, 13.2],
  [13.37, 10.3], [13.39, 11.1], [13.35, 11.9], [13.4, 12.7], [13.36, 13.4],
  [13.62, 10.5], [13.64, 11.3], [13.6, 12.1], [13.65, 12.9],
  [13.87, 10.7], [13.89, 11.5], [13.85, 12.3], [13.9, 13.0],
  [14.12, 10.9], [14.14, 11.7], [14.1, 12.5], [14.15, 13.2],
  [14.37, 11.1], [14.39, 11.9], [14.35, 12.7],
];
const FIT_X = [2.03, 14.6];
const FIT_Y = [2.42, 12.7];
const CORRELATION_LABEL = "R=0.81";
const CORR_TICKS = [0, 3, 6, 9, 12, 15, 18];
const CORR_MINOR = [1.5, 4.5, 7.5, 10.5, 13.5, 16.5];

const PANEL_LETTERS = ["A", "B", "C", "D"];

// ---------- helpers ----------
type AxisSpec = {
  min: number; max: number; ticks: number[]; title?: string; titleSize?: number;
  titlePad?: number; tickPad: number; size: number; decimals?: number;
};

function makeAxis(dir: "x" | "y", s: AxisSpec) {
  return {
    type: "linear",
    position: dir === "x" ? "bottom" : "left",
    min: s.min,
    max: s.max,
    afterBuildTicks: (scale: any) => {
      scale.ticks = s.ticks.map((v) => ({ value: v }));
    },
    afterFit: (scale: any) => {
      if (dir === "x") scale.height = s.size;
      else scale.width = s.size;
    },
    grid: { display: false, drawTicks: false },
    border: { display: false },
    ticks: {
      autoSkip: false,
      maxRotation: 0,
      padding: s.tickPad,
      color: INK,
      font: { family: SERIF, size: 18, weight: "bold" },
      callback: (v: any) => Number(v).toFixed(s.decimals ?? 0),
    },
    title: {
      display: !!s.title,
      text: s.title ?? "",
      color: INK,
      font: { family: SERIF, size: s.titleSize ?? 24, weight: "bold" },
      padding: dir === "x" ? { top: 0, bottom: s.titlePad ?? 0 } : { top: s.titlePad ?? 0, bottom: 0 },
    },
  };
}

function frameTicksPlugin(spec: { xMajor: number[]; xMinor: number[]; yMajor: number[]; yMinor: number[] }) {
  return {
    id: "frameTicks",
    afterDatasetsDraw(chart: any) {
      const { ctx, chartArea } = chart;
      const { left, right, top, bottom } = chartArea;
      const xs = chart.scales.x;
      const ys = chart.scales.y;
      ctx.save();
      ctx.strokeStyle = INK;
      ctx.lineWidth = 1.8;
      ctx.strokeRect(left, top, right - left, bottom - top);
      ctx.lineWidth = 1.5;
      ctx.beginPath();
      const xt = (vals: number[], len: number) =>
        vals.forEach((v) => {
          const p = xs.getPixelForValue(v);
          ctx.moveTo(p, bottom);
          ctx.lineTo(p, bottom - len);
        });
      const yt = (vals: number[], len: number) =>
        vals.forEach((v) => {
          const p = ys.getPixelForValue(v);
          ctx.moveTo(left, p);
          ctx.lineTo(left + len, p);
        });
      xt(spec.xMajor, 7);
      xt(spec.xMinor, 4);
      yt(spec.yMajor, 7);
      yt(spec.yMinor, 4);
      ctx.stroke();
      ctx.restore();
    },
  };
}

type TextItem = { text: string; x: number; y: number; color: string; size: number; bold?: boolean; align?: string };
type BracketItem = { from: number; to: number; y: number };

function annotationPlugin(spec: { texts?: TextItem[]; brackets?: BracketItem[]; yTitle?: { text: string; offset: number; size: number } }) {
  return {
    id: "annotations",
    afterDraw(chart: any) {
      const { ctx, chartArea } = chart;
      const xs = chart.scales.x;
      const ys = chart.scales.y;
      ctx.save();
      (spec.texts ?? []).forEach((t) => {
        ctx.font = `${t.bold ? "bold " : ""}${t.size}px ${SERIF}`;
        ctx.fillStyle = t.color;
        ctx.textAlign = t.align ?? "left";
        ctx.textBaseline = "middle";
        ctx.fillText(t.text, xs.getPixelForValue(t.x), ys.getPixelForValue(t.y));
      });
      (spec.brackets ?? []).forEach((b) => {
        const x1 = xs.getPixelForValue(b.from);
        const x2 = xs.getPixelForValue(b.to);
        const yy = ys.getPixelForValue(b.y);
        const mid = (x1 + x2) / 2;
        ctx.strokeStyle = INK;
        ctx.fillStyle = INK;
        ctx.lineWidth = 1.6;
        ctx.beginPath();
        ctx.moveTo(x1, yy - 10);
        ctx.lineTo(x1, yy + 10);
        ctx.moveTo(x2, yy - 10);
        ctx.lineTo(x2, yy + 10);
        ctx.moveTo(x1, yy);
        ctx.lineTo(mid - 8, yy);
        ctx.moveTo(x2, yy);
        ctx.lineTo(mid + 8, yy);
        ctx.stroke();
        ctx.beginPath();
        ctx.moveTo(mid - 2, yy);
        ctx.lineTo(mid - 10, yy - 4);
        ctx.lineTo(mid - 10, yy + 4);
        ctx.closePath();
        ctx.moveTo(mid + 2, yy);
        ctx.lineTo(mid + 10, yy - 4);
        ctx.lineTo(mid + 10, yy + 4);
        ctx.closePath();
        ctx.fill();
      });
      if (spec.yTitle) {
        const t = spec.yTitle;
        ctx.translate(ys.left + t.offset, (chartArea.top + chartArea.bottom) / 2);
        ctx.rotate(-Math.PI / 2);
        ctx.font = `bold ${t.size}px ${SERIF}`;
        ctx.fillStyle = INK;
        ctx.textAlign = "center";
        ctx.textBaseline = "middle";
        ctx.fillText(t.text, 0, 0);
      }
      ctx.restore();
    },
  };
}

function legendPlugin(items: { text: string; color: string }[], colX: number[], rowY: number[]) {
  return {
    id: "cornerLegend",
    afterDraw(chart: any) {
      const { ctx, chartArea } = chart;
      ctx.save();
      items.forEach((it, i) => {
        const x0 = chartArea.left + colX[i % 2];
        const yy = chartArea.top + rowY[Math.floor(i / 2)];
        ctx.strokeStyle = it.color;
        ctx.lineWidth = 4;
        ctx.beginPath();
        ctx.moveTo(x0, yy);
        ctx.lineTo(x0 + 48, yy);
        ctx.stroke();
        ctx.fillStyle = INK;
        ctx.font = `bold 21px ${SERIF}`;
        ctx.textAlign = "left";
        ctx.textBaseline = "middle";
        ctx.fillText(it.text, x0 + 54, yy);
      });
      ctx.restore();
    },
  };
}

const baseOptions = {
  responsive: false,
  maintainAspectRatio: false,
  animation: false,
  events: [],
};

function lineSet(label: string, xs: number[], ys: number[], color: string, width: number) {
  const data = xs
    .map((x, i) => ({ x, y: ys[i] }))
    .filter((p) => typeof p.y === "number");
  return {
    label,
    data,
    borderColor: color,
    backgroundColor: color,
    borderWidth: width,
    pointRadius: 0,
    tension: 0,
    fill: false,
    borderJoinStyle: "round",
  };
}

// ---------- chart configs ----------
function energyConfig() {
  return {
    type: "line",
    data: {
      datasets: [
        lineSet(SERIES_NAMES[1], ENERGY_TIME, ENERGY_MU, LINE_COLORS[1], 3),
        lineSet(SERIES_NAMES[3], ENERGY_TIME, ENERGY_OMICRON, LINE_COLORS[3], 3),
        lineSet(SERIES_NAMES[2], ENERGY_TIME, ENERGY_DELTA, LINE_COLORS[2], 3),
        lineSet(SERIES_NAMES[0], ENERGY_TIME, ENERGY_WT, LINE_COLORS[0], 3),
      ],
    },
    options: {
      ...baseOptions,
      layout: { padding: { top: 29, right: 24, bottom: 0, left: 0 } },
      plugins: { legend: { display: false }, tooltip: { enabled: false } },
      scales: {
        x: makeAxis("x", { min: 0, max: 100, ticks: ENERGY_X_TICKS, title: "Time (ns)", titlePad: 0, tickPad: 6, size: 57 }),
        y: makeAxis("y", { min: -4.2, max: -2.0, ticks: ENERGY_Y_TICKS, tickPad: 6, size: 86, decimals: 1 }),
      },
    },
    plugins: [
      frameTicksPlugin({ xMajor: ENERGY_X_TICKS, xMinor: ENERGY_X_MINOR, yMajor: ENERGY_Y_TICKS, yMinor: ENERGY_Y_MINOR }),
      annotationPlugin({
        texts: [
          { text: ENERGY_STATS[0], x: 4.1, y: -3.097, color: TEXT_COLORS[0], size: 25 },
          { text: ENERGY_STATS[1], x: 43.8, y: -3.097, color: TEXT_COLORS[1], size: 25 },
          { text: ENERGY_STATS[2], x: 4.1, y: -3.336, color: TEXT_COLORS[2], size: 25 },
          { text: ENERGY_STATS[3], x: 43.8, y: -3.313, color: TEXT_COLORS[3], size: 25 },
        ],
        yTitle: { text: "Potential energy (×10⁶ kcal/mol)", offset: 35, size: 24 },
      }),
      legendPlugin(
        SERIES_NAMES.map((n, i) => ({ text: n, color: LINE_COLORS[i] })),
        [21, 227],
        [24, 54]
      ),
    ],
  };
}

function rmsdConfig() {
  return {
    type: "line",
    data: {
      datasets: [
        lineSet(SERIES_NAMES[3], RMSD_TIME, RMSD_OMICRON, LINE_COLORS[3], 2.4),
        lineSet(SERIES_NAMES[2], RMSD_TIME, RMSD_DELTA, LINE_COLORS[2], 2.4),
        lineSet(SERIES_NAMES[1], RMSD_TIME, RMSD_MU, LINE_COLORS[1], 2.4),
        lineSet(SERIES_NAMES[0], RMSD_TIME, RMSD_WT, LINE_COLORS[0], 2.4),
      ],
    },
    options: {
      ...baseOptions,
      layout: { padding: { top: 31, right: 18, bottom: 0, left: 0 } },
      plugins: { legend: { display: false }, tooltip: { enabled: false } },
      scales: {
        x: makeAxis("x", { min: 5, max: 100, ticks: RMSD_X_TICKS, title: "Time (ns)", titlePad: 0, tickPad: 6, size: 52 }),
        y: makeAxis("y", { min: 0, max: 15, ticks: RMSD_Y_TICKS, title: "RMSD (Å)", titlePad: 14.6, tickPad: 7, size: 72 }),
      },
    },
    plugins: [
      frameTicksPlugin({ xMajor: RMSD_X_TICKS, xMinor: RMSD_X_MINOR, yMajor: RMSD_Y_TICKS, yMinor: RMSD_Y_MINOR }),
      annotationPlugin({
        texts: [
          { text: RMSD_STATS[0], x: 29.8, y: 10.31, color: TEXT_COLORS[0], size: 25, align: "center" },
          { text: RMSD_STATS[1], x: 85.7, y: 11.03, color: TEXT_COLORS[1], size: 25, align: "center" },
          { text: RMSD_STATS[2], x: 85.8, y: 4.09, color: TEXT_COLORS[2], size: 25, align: "center" },
          { text: RMSD_STATS[3], x: 62.0, y: 4.24, color: TEXT_COLORS[3], size: 25, align: "center" },
        ],
      }),
    ],
  };
}

function rmsfConfig() {
  return {
    type: "line",
    data: {
      datasets: [
        lineSet(SERIES_NAMES[3], RESIDUES, RMSF_OMICRON, LINE_COLORS[3], 2.4),
        lineSet(SERIES_NAMES[2], RESIDUES, RMSF_DELTA, LINE_COLORS[2], 2.4),
        lineSet(SERIES_NAMES[1], RESIDUES, RMSF_MU, LINE_COLORS[1], 2.4),
        lineSet(SERIES_NAMES[0], RESIDUES, RMSF_WT, LINE_COLORS[0], 2.4),
      ],
    },
    options: {
      ...baseOptions,
      layout: { padding: { top: 21, right: 22, bottom: 0, left: 0 } },
      plugins: { legend: { display: false }, tooltip: { enabled: false } },
      scales: {
        x: makeAxis("x", { min: 1, max: 1123, ticks: RMSF_X_TICKS, title: "Residue number", titleSize: 25, titlePad: -4.4, tickPad: 6, size: 54 }),
        y: makeAxis("y", { min: 0, max: 20, ticks: RMSF_Y_TICKS, title: "RMSF (Å)", titlePad: 25.1, tickPad: 8, size: 88 }),
      },
    },
    plugins: [
      frameTicksPlugin({ xMajor: RMSF_X_TICKS, xMinor: RMSF_X_MINOR, yMajor: RMSF_Y_TICKS, yMinor: RMSF_Y_MINOR }),
      annotationPlugin({
        texts: REGION_NAMES.map((n, i) => ({
          text: n, x: (REGION_START[i] + REGION_END[i]) / 2, y: 12.0, color: INK, size: 23, align: "center",
        })),
        brackets: REGION_NAMES.map((_, i) => ({ from: REGION_START[i], to: REGION_END[i], y: 10.26 })),
      }),
    ],
  };
}

function correlationConfig() {
  return {
    type: "scatter",
    data: {
      datasets: [
        {
          type: "line",
          label: "fit",
          data: FIT_X.map((x, i) => ({ x, y: FIT_Y[i] })),
          borderColor: "#d61f26",
          borderWidth: 2.2,
          pointRadius: 0,
          fill: false,
        },
        {
          label: "WT vs Delta",
          data: [...SCATTER_CORE, ...SCATTER_FILL].map(([x, y]) => ({ x, y })),
          pointRadius: 4.5,
          pointBorderWidth: 1.3,
          borderColor: "#6b2d9e",
          backgroundColor: "rgba(255,255,255,0)",
          pointStyle: "circle",
        },
      ],
    },
    options: {
      ...baseOptions,
      layout: { padding: { top: 23, right: 17, bottom: 0, left: 0 } },
      plugins: { legend: { display: false }, tooltip: { enabled: false } },
      scales: {
        x: makeAxis("x", { min: 0, max: 18, ticks: CORR_TICKS, title: "RMSF of Delta_hACE2 (Å)", titlePad: -1.4, tickPad: 7, size: 56 }),
        y: makeAxis("y", { min: 0, max: 18, ticks: CORR_TICKS, title: "RMSF of WT_hAC2 (Å)", titlePad: 14.6, tickPad: 9, size: 74 }),
      },
    },
    plugins: [
      frameTicksPlugin({ xMajor: CORR_TICKS, xMinor: CORR_MINOR, yMajor: CORR_TICKS, yMinor: CORR_MINOR }),
      annotationPlugin({
        texts: [{ text: CORRELATION_LABEL, x: 16.43, y: 16.62, color: INK, size: 23, bold: true, align: "center" }],
      }),
    ],
  };
}

// ---------- components ----------
function ChartCanvas(props: { left: number; top: number; width: number; height: number; build: () => any }) {
  const ref = useRef<HTMLCanvasElement | null>(null);
  const { left, top, width, height, build } = props;
  useEffect(() => {
    if (!ref.current) return;
    const chart = new Chart(ref.current, build());
    return () => chart.destroy();
  }, [build]);
  return (
    <canvas
      ref={ref}
      width={width}
      height={height}
      style={{ position: "absolute", left, top, width, height, display: "block" }}
    />
  );
}

const LETTER_POS = [
  { left: 18, top: 365 },
  { left: 670, top: 365 },
  { left: 13, top: 734 },
  { left: 670, top: 734 },
];

export default function App() {
  return (
    <div
      style={{
        position: "absolute",
        left: 0,
        top: 0,
        width: 1294,
        height: 756,
        overflow: "hidden",
        background: "#ffffff",
        fontFamily: SERIF,
      }}
    >
      <ChartCanvas left={7} top={14} width={656} height={376} build={energyConfig} />
      <ChartCanvas left={663} top={14} width={631} height={376} build={rmsdConfig} />
      <ChartCanvas left={7} top={390} width={656} height={366} build={rmsfConfig} />
      <ChartCanvas left={663} top={390} width={631} height={366} build={correlationConfig} />
      <svg width={1294} height={756} style={{ position: "absolute", left: 0, top: 0, pointerEvents: "none" }}>
        <line x1={7} y1={14} x2={1294} y2={14} stroke={INK} strokeWidth={2.5} />
        <line x1={8} y1={13} x2={8} y2={756} stroke={INK} strokeWidth={2.5} />
        <line x1={663} y1={15} x2={663} y2={756} stroke="#222" strokeWidth={2} strokeDasharray="13 6" />
        <line x1={10} y1={389.5} x2={1294} y2={389.5} stroke="#333" strokeWidth={2} strokeDasharray="13 6" />
      </svg>
      {PANEL_LETTERS.map((l, i) => (
        <div
          key={l}
          style={{
            position: "absolute",
            left: LETTER_POS[i].left,
            top: LETTER_POS[i].top,
            fontSize: 25,
            lineHeight: "25px",
            color: INK,
            fontFamily: SERIF,
          }}
        >
          {l}
        </div>
      ))}
    </div>
  );
}
